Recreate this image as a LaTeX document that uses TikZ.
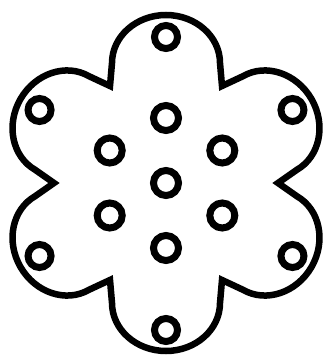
\documentclass[tikz,border=0pt]{standalone}
\begin{document}
\begin{tikzpicture}[x=1pt,y=1pt,
  outline/.style={line width=6.5pt,line join=miter,miter limit=20},
  dot/.style={circle,draw,line width=7pt,minimum size=23pt,inner sep=0pt},
  bigdot/.style={circle,draw,line width=7pt,minimum size=25pt,inner sep=0pt}]
\useasboundingbox (-166,-173) rectangle (163,183);
% flower outline
\draw[outline] (120:112)
  \foreach \a in {0,60,...,240}{
    -- ([rotate=-\a]-54,120)
    .. controls ([rotate=-\a]-54,146.5) and ([rotate=-\a]-29.8,168) .. ([rotate=-\a]0,168)
    .. controls ([rotate=-\a]29.8,168) and ([rotate=-\a]54,146.5) .. ([rotate=-\a]54,120)
    -- ([rotate=-\a]56,97)
  }
  -- ([rotate=-300]-54,120)
  .. controls ([rotate=-300]-54,146.5) and ([rotate=-300]-29.8,168) .. ([rotate=-300]0,168)
  .. controls ([rotate=-300]29.8,168) and ([rotate=-300]54,146.5) .. ([rotate=-300]54,120)
  -- cycle;
% outer dots
\node[dot] (o1) at (90:146) {};
\node[dot] (o2) at (150:146) {};
\node[dot] (o3) at (210:146) {};
\node[dot] (o4) at (270:147) {};
\node[dot] (o5) at (330:146) {};
\node[dot] (o6) at (30:146) {};
% inner dots
\node[bigdot] (c) at (0,0) {};
\node[bigdot] (i1) at (90:65) {};
\node[bigdot] (i2) at (150:65) {};
\node[bigdot] (i3) at (210:65) {};
\node[bigdot] (i4) at (270:65) {};
\node[bigdot] (i5) at (330:65) {};
\node[bigdot] (i6) at (30:65) {};
\end{tikzpicture}
\end{document}
